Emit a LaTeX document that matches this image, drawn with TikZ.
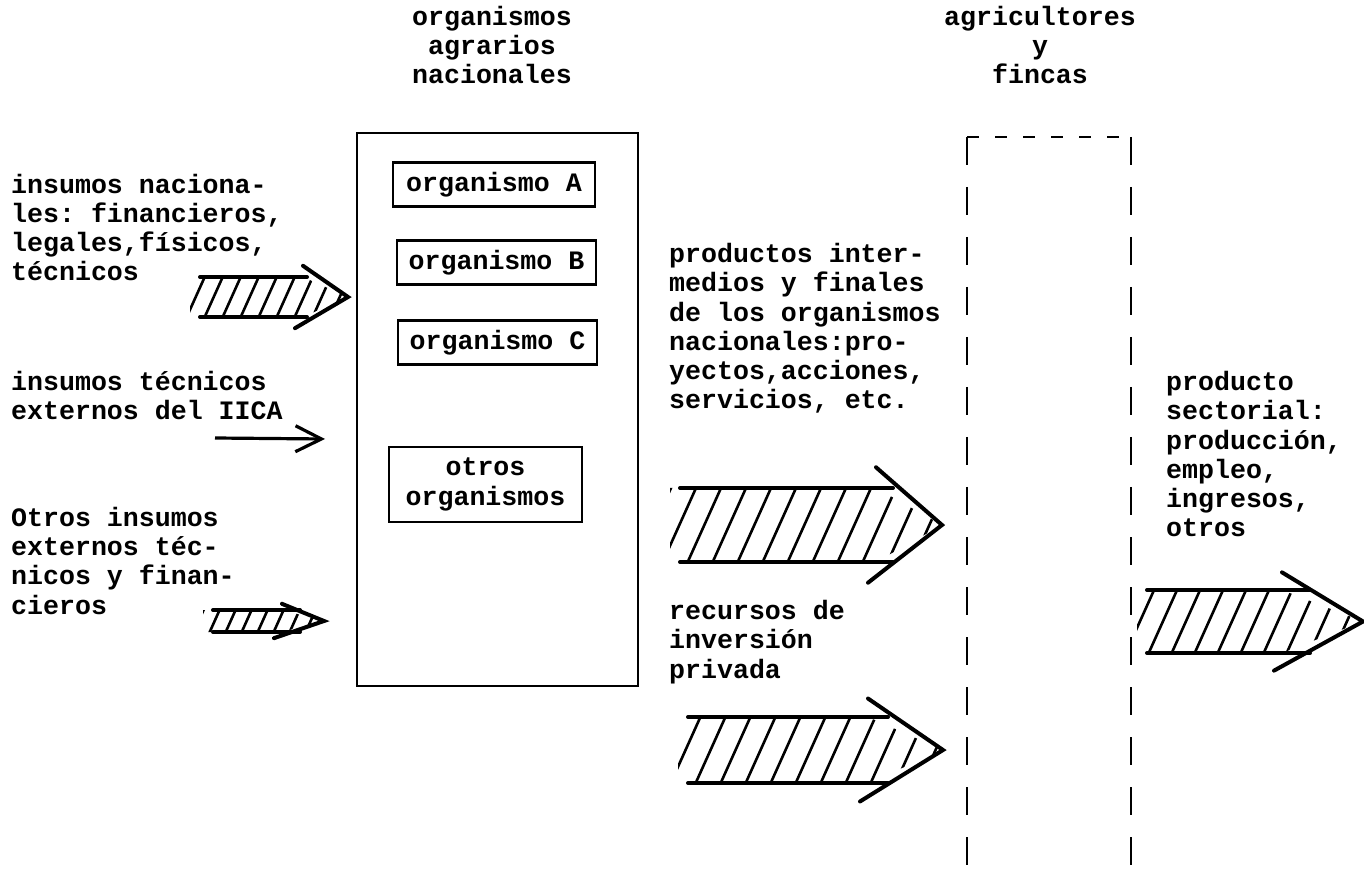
\documentclass[tikz,border=0pt]{standalone}
\usepackage{fontspec}
\setmonofont{Liberation Mono}
\usetikzlibrary{arrows.meta}
% hatched block arrow: name, tail x, shaft end x, barb x, top y, bottom y, tip x, hatch step
\newcommand{\flecha}[8]{%
  \begin{scope}
    \clip (#2-10,#5) -- (#4,#5) -- (#7,{(#5+#6)/2}) -- (#4,#6) -- (#2-10,#6) -- cycle;
    \foreach \k in {0,#8,...,420}
      \draw[hatch] ({#2-70+\k},{#6+6}) -- ++({0.45*(#6-#5+12)},{#5-#6-12});
  \end{scope}
  \draw[shaft] (#2,#5) -- (#3,#5) (#2,#6) -- (#3,#6);
  \draw[shaft] (#4,{#5-0.28*(#6-#5)}) -- (#7,{(#5+#6)/2}) coordinate (#1)
    -- ({#4-8},{#6+0.28*(#6-#5)});}

\begin{document}
\begin{tikzpicture}
  [x=0.5pt, y=-0.5pt, line width=1.2pt,
   txt/.style={font=\ttfamily\bfseries\fontsize{13.3}{14.65}\selectfont,
     inner sep=0pt, align=left, anchor=base west},
   orgbox/.style={draw, txt, anchor=center, align=center},
   hatch/.style={line width=1.3pt},
   shaft/.style={line width=2pt, line cap=round}]
  \useasboundingbox (0,0) rectangle (1364,881);

  % headers (anchored at the last line)
  \node[txt, align=center, anchor=base] (hdrorg) at (492,84)
    {organismos\\agrarios\\nacionales};
  \node[txt, align=center, anchor=base] (hdragr) at (1040,84)
    {agricultores\\y\\fincas};

  % national agencies
  \node[draw, minimum width=140.5pt, minimum height=276.5pt]
    (nac) at (497.5,409.5) {};
  \foreach \nom/\x/\y/\w in {A/494/184.5/101,B/496.5/262.5/99.5,C/497.5/342.5/99.5}{
    \node[orgbox, minimum width=\w pt, minimum height=22pt]
      (org\nom) at (\x,\y) {organismo \nom}; }
  \node[orgbox, minimum width=96.5pt, minimum height=37.5pt]
    (orgO) at (485.5,484.5) {otros\\organismos};

  % farmers and farms
  \draw[dash pattern=on 6pt off 8pt] (967,137) -- (1131,137);
  \draw[dash pattern=on 14pt off 11pt] (967,137) -- (967,878);
  \draw[dash pattern=on 14pt off 11pt] (1131,137) -- (1131,878);

  % texts
  \node[txt] (insnac) at (10,281)
    {insumos naciona-\\les: financieros,\\legales,f\'{\i}sicos,\\t\'ecnicos};
  \node[txt] (insiica) at (10,420) {insumos t\'ecnicos\\externos del IICA};
  \node[txt] (insotr) at (10,614)
    {Otros insumos\\externos t\'ec-\\nicos y finan-\\cieros};
  \node[txt] (prod) at (668,409)
    {productos inter-\\medios y finales\\de los organismos\\nacionales:pro-\\yectos,acciones,\\servicios, etc.};
  \node[txt] (rec) at (668,678) {recursos de\\inversi\'on\\privada};
  \node[txt] (sect) at (1165,537)
    {producto\\sectorial:\\producci\'on,\\empleo,\\ingresos,\\otros};

  % arrows
  \flecha{fnac}{200}{307}{303}{277}{317}{348}{18}
  \coordinate (iicaA) at (215,438);
  \coordinate (iicaB) at (325,439);
  \draw[line width=1.6pt, -{Straight Barb[length=13pt,width=13pt]}] (iicaA) -- (iicaB);
  \flecha{fotr}{213}{300}{282}{610}{632}{324}{16}
  \flecha{fprod}{680}{893}{876}{488}{562}{942}{25}
  \flecha{frec}{688}{888}{868}{717}{783}{943}{25}
  \flecha{fsect}{1147}{1310}{1282}{590}{653}{1363}{23}
\end{tikzpicture}
\end{document}
